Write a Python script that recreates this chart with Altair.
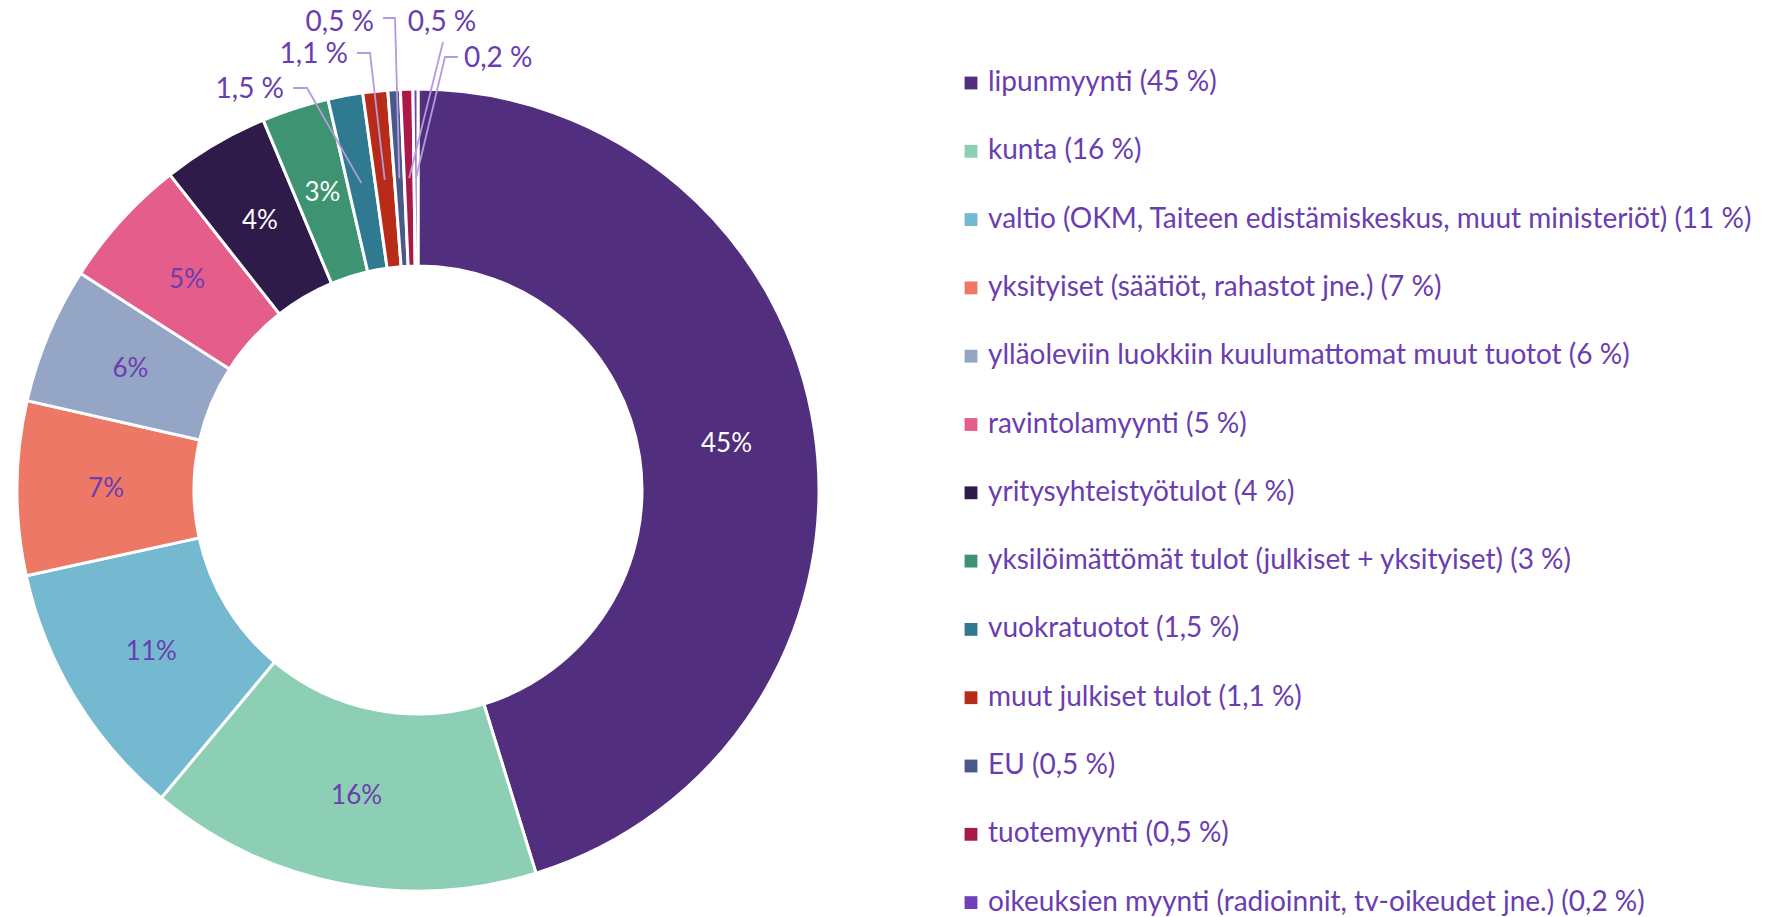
import altair as alt
import pandas as pd
import numpy as np

# ---------------- data ----------------
categories = [
    "lipunmyynti",
    "kunta",
    "valtio (OKM, Taiteen edistämiskeskus, muut ministeriöt)",
    "yksityiset (säätiöt, rahastot jne.)",
    "ylläoleviin luokkiin kuulumattomat muut tuotot",
    "ravintolamyynti",
    "yritysyhteistyötulot",
    "yksilöimättömät tulot (julkiset + yksityiset)",
    "vuokratuotot",
    "muut julkiset tulot",
    "EU",
    "tuotemyynti",
    "oikeuksien myynti (radioinnit, tv-oikeudet jne.)",
]
values = [45.2, 15.8, 10.5, 7.0, 5.5, 5.3, 4.3, 2.7, 1.4, 1.0, 0.5, 0.5, 0.2]
legend_pct = ["45 %", "16 %", "11 %", "7 %", "6 %", "5 %", "4 %", "3 %",
              "1,5 %", "1,1 %", "0,5 %", "0,5 %", "0,2 %"]
inner_labels = ["45%", "16%", "11%", "7%", "6%", "5%", "4%", "3%", "", "", "", "", ""]
colors = ["#512e7e", "#8dcfb5", "#74b9d0", "#ee7866", "#95a5c6", "#e45d8b",
          "#2f1b4a", "#3e9472", "#2f7a90", "#b82b18", "#4a5a88", "#a91a4b", "#7040b6"]
light_slices = [False, True, True, True, True, True, False, False,
                False, False, False, False, False]

# ---------------- style / layout ----------------
W, H = 1754, 909
CX, CY = 410, 482
R_OUT, R_IN = 401, 224
R_LBL = 312
TXT = "#6a3db0"
LEADER = "#b59ade"
FONT = "Lato"
LEG_FS = 28

legend_names = [f"{c} ({p})" for c, p in zip(categories, legend_pct)]

df = pd.DataFrame({
    "idx": range(len(categories)),
    "name": legend_names,
    "value": values,
    "inner": inner_labels,
    "tc": [TXT if lt else "white" for lt in light_slices],
})

# outer labels for the small slices (label placement only)
outer_layout = {
    8: dict(path=[(299, 80), (285, 80)], text=(276, 82), align="right"),
    9: dict(path=[(362, 45), (349, 45)], text=(340, 47), align="right"),
    10: dict(path=[(387, 10), (375, 10)], text=(366, 15), align="right"),
    11: dict(path=[(435, 34)], text=(434, 15), align="center"),
    12: dict(path=[(437, 49), (450, 49)], text=(456, 51), align="left"),
}

total = sum(values)
cum = np.cumsum([0] + values[:-1])
line_rows, text_rows = [], []
for i, lay in outer_layout.items():
    a = 2 * np.pi * (cum[i] + values[i] / 2) / total
    sx, sy = CX + R_LBL * np.sin(a), CY - R_LBL * np.cos(a)
    pts = [(sx, sy)] + lay["path"]
    for k, (px, py) in enumerate(pts):
        line_rows.append({"g": i, "k": k, "px": px, "py": py})
    text_rows.append({"g": i, "px": lay["text"][0], "py": lay["text"][1],
                      "t": legend_pct[i], "align": lay["align"]})
lines_df = pd.DataFrame(line_rows)
texts_df = pd.DataFrame(text_rows)

xs = alt.Scale(domain=[0, W], nice=False, zero=False)
ys = alt.Scale(domain=[H, 0], nice=False, zero=False)

arcs = alt.Chart(df).mark_arc(
    innerRadius=R_IN, outerRadius=R_OUT, stroke="white", strokeWidth=3
).encode(
    theta=alt.Theta("value:Q", stack=True),
    order=alt.Order("idx:Q"),
    color=alt.Color(
        "name:N",
        scale=alt.Scale(domain=legend_names, range=colors),
        sort=legend_names,
        legend=alt.Legend(
            orient="none", legendX=949, legendY=61, title=None,
            symbolType="square", symbolSize=165, symbolStrokeWidth=0,
            labelFontSize=LEG_FS, labelFont=FONT, labelColor=TXT,
            rowPadding=40.3, labelLimit=1000, labelOffset=3,
            direction="vertical",
        ),
    ),
    x=alt.value(CX),
    y=alt.value(CY),
)

inner = alt.Chart(df).mark_text(
    radius=R_LBL, fontSize=26, font=FONT
).encode(
    theta=alt.Theta("value:Q", stack=True),
    order=alt.Order("idx:Q"),
    text="inner:N",
    color=alt.Color("tc:N", scale=None),
    x=alt.value(CX),
    y=alt.value(CY),
)

leaders = alt.Chart(lines_df).mark_line(color=LEADER, strokeWidth=1.8).encode(
    x=alt.X("px:Q", scale=xs, axis=None),
    y=alt.Y("py:Q", scale=ys, axis=None),
    detail="g:N",
    order="k:Q",
)

text_layers = []
for al in ["right", "center", "left"]:
    sub = texts_df[texts_df["align"] == al]
    if len(sub):
        text_layers.append(
            alt.Chart(sub).mark_text(
                align=al, baseline="middle", fontSize=28, font=FONT, color=TXT
            ).encode(
                x=alt.X("px:Q", scale=xs, axis=None),
                y=alt.Y("py:Q", scale=ys, axis=None),
                text="t:N",
            )
        )

chart = alt.layer(arcs, inner, leaders, *text_layers).properties(
    width=W, height=H, padding=0, autosize=alt.AutoSizeParams(type="none")
).configure_view(stroke=None).resolve_scale(color="independent")

chart.save("out.html", embed_options={"renderer": "svg", "actions": False})

# keep the page at the window size (no scrollbar)
with open("out.html", encoding="utf-8") as f:
    html = f.read()
html = html.replace("<head>", "<head>\n<style>html, body { overflow: hidden; }</style>", 1)
with open("out.html", "w", encoding="utf-8") as f:
    f.write(html)
